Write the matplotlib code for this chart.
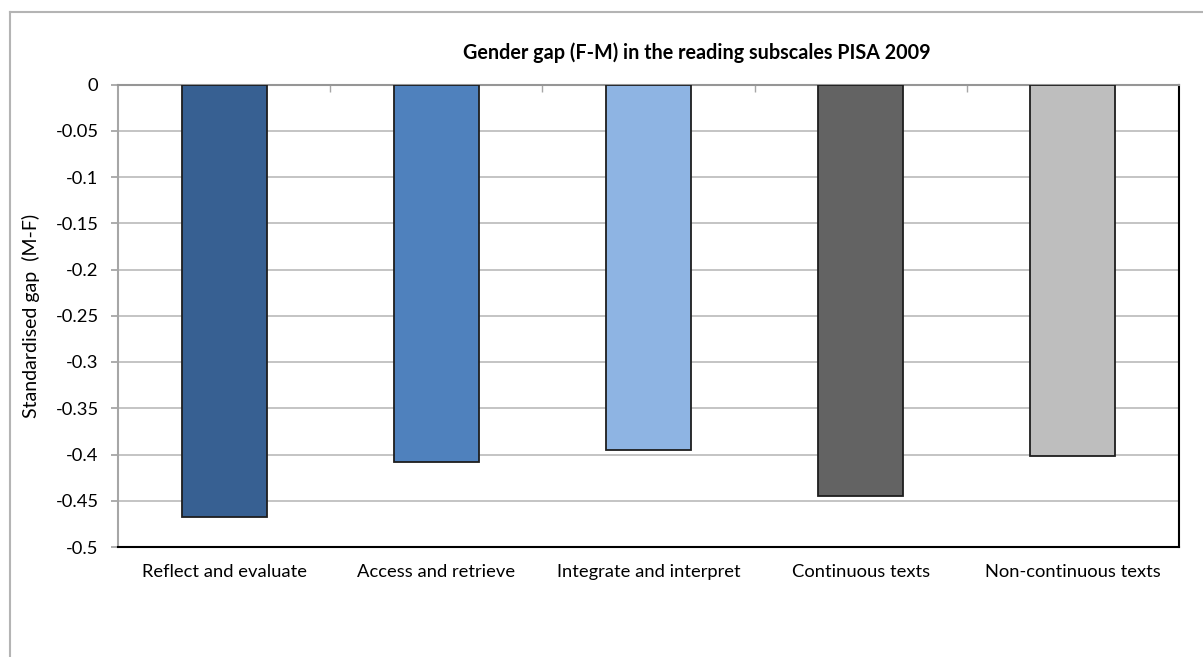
import numpy as np
import matplotlib
matplotlib.use("Agg")
import matplotlib.pyplot as plt
from matplotlib.lines import Line2D

plt.rcParams['font.family'] = ['Lato', 'DejaVu Sans']

# data
categories = ["Reflect and evaluate", "Access and retrieve", "Integrate and interpret",
              "Continuous texts", "Non-continuous texts"]
gaps = [-0.468, -0.408, -0.395, -0.4445, -0.402]
bar_colors = ["#376092", "#4F81BD", "#8EB4E3", "#636363", "#BEBEBE"]
yticks = [0, -0.05, -0.1, -0.15, -0.2, -0.25, -0.3, -0.35, -0.4, -0.45, -0.5]
ytick_labels = ["0", "-0.05", "-0.1", "-0.15", "-0.2", "-0.25", "-0.3", "-0.35", "-0.4", "-0.45", "-0.5"]

W, H = 1203, 657
fig = plt.figure(figsize=(W / 100, H / 100), dpi=100)
left, right, top, bottom = 118, 1179, 84.5, 547
ax = fig.add_axes([left / W, 1 - bottom / H, (right - left) / W, (bottom - top) / H])

x = np.arange(len(categories))
ax.bar(x, gaps, width=0.4, color=bar_colors, edgecolor="#1e1e1e", linewidth=1.3, zorder=3)

ax.set_xlim(-0.5, len(categories) - 0.5)
ax.set_ylim(-0.5, 0)
ax.set_yticks(yticks)
ax.set_yticklabels(ytick_labels)
ax.set_xticks(x)
ax.set_xticklabels(categories)
ax.set_xticks(np.arange(0.5, len(categories) - 1, 1), minor=True)

ax.yaxis.grid(True, color="#BFBFBF", linewidth=1.3, zorder=0)
ax.set_axisbelow(True)

ax.tick_params(axis="x", which="major", length=0, pad=12, labelsize=13.2, labelcolor="#000000")
ax.tick_params(axis="x", which="minor", bottom=False, top=True, direction="in",
               length=5, color="#A6A6A6", width=1)
ax.tick_params(axis="y", direction="out", length=5, color="#A6A6A6", width=1.3,
               pad=9, labelsize=13.2)

ax.spines["top"].set_color("#969696")
ax.spines["top"].set_linewidth(1.5)
ax.spines["left"].set_color("#A6A6A6")
ax.spines["left"].set_linewidth(1.5)
ax.spines["bottom"].set_color("#000000")
ax.spines["bottom"].set_linewidth(1.5)
ax.spines["right"].set_color("#000000")
ax.spines["right"].set_linewidth(1.5)

ax.set_ylabel("Standardised gap  (M-F)", fontsize=14)
ax.yaxis.set_label_coords((40 - left) / (right - left), 0.5)

fig.text(697 / W, 1 - 53 / H, "Gender gap (F-M) in the reading subscales PISA 2009",
         ha="center", va="center", fontsize=14.2, fontweight="bold")

# outer chart frame (runs off the right and bottom edges)
fig.add_artist(Line2D([10 / W, 10 / W], [-0.1, 1 - 12 / H], transform=fig.transFigure,
                      color="#B4B4B4", linewidth=1.5))
fig.add_artist(Line2D([10 / W, 1.1], [1 - 12 / H, 1 - 12 / H], transform=fig.transFigure,
                      color="#B4B4B4", linewidth=1.5))

fig.savefig("out.png", dpi=100)
